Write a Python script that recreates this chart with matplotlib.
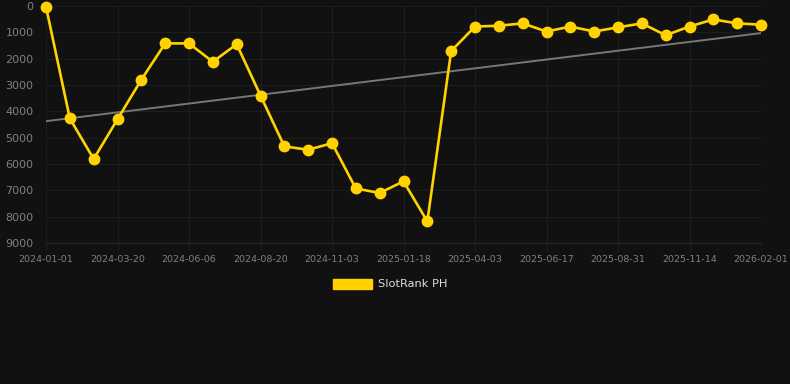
import matplotlib.pyplot as plt
import numpy as np

# rank of the slot, roughly every 25 days from 2024-01-01 to 2026-02-01
rank = [30, 4270, 5810, 4300, 2800, 1420, 1420, 2120, 1450, 3400,
        5330, 5460, 5210, 6930, 7100, 6660, 8180, 1710, 780, 750,
        660, 970, 780, 970, 810, 660, 1110, 780, 510, 660, 710]
tick_labels = ["2024-01-01", "2024-03-20", "2024-06-06", "2024-08-20",
               "2024-11-03", "2025-01-18", "2025-04-03", "2025-06-17",
               "2025-08-31", "2025-11-14", "2026-02-01"]
series_name = "SlotRank PH"

bg = "#111111"
gold = "#ffd200"
grid_c = "#1d1d1d"
tick_c = "#808080"

x = np.arange(len(rank))

fig = plt.figure(figsize=(7.9, 3.84), dpi=100, facecolor=bg)
ax = fig.add_axes([46 / 790, 1 - 243 / 384, (761 - 46) / 790, (243 - 6) / 384])
ax.set_facecolor(bg)

# linear trend over the series
k, b = np.polyfit(x, rank, 1)
ax.plot(x[[0, -1]], k * x[[0, -1]] + b, color="#777777", lw=1.4, zorder=2)

ax.plot(x, rank, color=gold, lw=1.9, marker="o", ms=7.5, zorder=3, clip_on=False)

ax.set_xlim(0, len(rank) - 1)
ax.set_ylim(9000, 0)
ax.set_xticks(x[::3])
ax.set_xticklabels(tick_labels)
ax.set_yticks(range(0, 9001, 1000))
ax.set_yticklabels([str(v) for v in range(0, 9001, 1000)])

ax.grid(True, color=grid_c, lw=0.8)
ax.set_axisbelow(True)
for s in ax.spines.values():
    s.set_visible(False)
ax.spines["bottom"].set_visible(True)
ax.spines["bottom"].set_color("#282828")
ax.tick_params(axis="x", colors=grid_c, labelcolor=tick_c, labelsize=6.8, length=6, width=0.8, pad=3)
ax.tick_params(axis="y", length=0, labelcolor=tick_c, labelsize=8, pad=9)

# legend
fig.patches.append(plt.Rectangle((333 / 790, 1 - 289 / 384), 39 / 790, 10 / 384,
                                 transform=fig.transFigure, color=gold))
fig.text(378 / 790, 1 - 284 / 384, series_name, color="#dddddd", fontsize=8.2, va="center")

fig.savefig("out.png", dpi=100, facecolor=bg)
